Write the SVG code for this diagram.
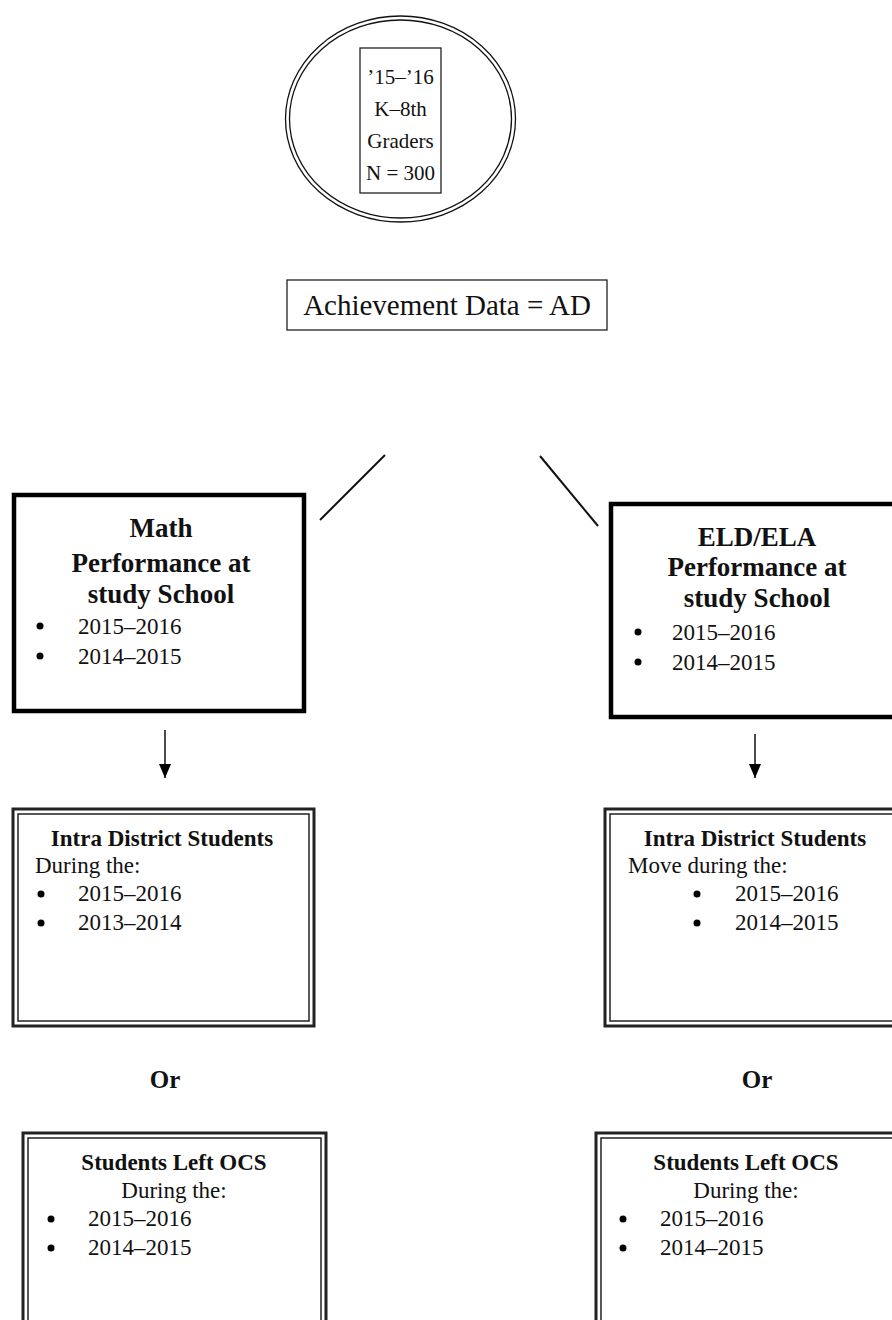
<svg xmlns="http://www.w3.org/2000/svg" width="892" height="1320" viewBox="0 0 892 1320">
<defs>
<style>
text{font-family:"Liberation Serif","Times New Roman",serif;fill:#111}
.b{font-weight:bold}
.c{text-anchor:middle}
.thin{fill:none;stroke:#111;stroke-width:1.3}
.thick{fill:#fff;stroke:#000;stroke-width:4.5}
.dbo{fill:#fff;stroke:#222;stroke-width:3}
.dbi{fill:none;stroke:#222;stroke-width:1.5}
.conn{stroke:#111;stroke-width:2;fill:none}
.h{font-size:27px;font-weight:bold}
.t{font-size:23px}
.hb{font-size:23px;font-weight:bold}
</style>
<marker id="ah" markerWidth="14" markerHeight="12" refX="14" refY="6" orient="auto" markerUnits="userSpaceOnUse" viewBox="0 0 14 12">
<path d="M0,0 L14,6 L0,12 Z" fill="#000"/>
</marker>
</defs>
<rect width="892" height="1320" fill="#fff"/>

<g id="connectors">
<line class="conn" x1="385" y1="455" x2="320" y2="520"/>
<line class="conn" x1="540" y1="456" x2="598" y2="526"/>
<line x1="165" y1="730" x2="165" y2="778" stroke="#111" stroke-width="1.5" marker-end="url(#ah)"/>
<line x1="755" y1="734" x2="755" y2="778" stroke="#111" stroke-width="1.5" marker-end="url(#ah)"/>
</g>

<g id="node-population">
<ellipse cx="400.5" cy="119" rx="115" ry="103" class="thin"/>
<ellipse cx="400.5" cy="119" rx="111" ry="99" class="thin"/>
<rect x="360" y="48" width="81" height="145" fill="#fff" stroke="#222" stroke-width="1.3"/>
<text class="c" x="400.5" y="84" font-size="21">’15–’16</text>
<text class="c" x="400.5" y="116" font-size="21">K–8th</text>
<text class="c" x="400.5" y="148" font-size="21">Graders</text>
<text class="c" x="400.5" y="180" font-size="21">N = 300</text>
</g>

<g id="node-ad">
<rect x="287" y="280" width="320" height="50" fill="#fff" stroke="#222" stroke-width="1.3"/>
<text class="c" x="447" y="315" font-size="29">Achievement Data = AD</text>
</g>

<g id="node-math">
<rect x="14" y="495" width="290" height="216" class="thick"/>
<text class="c h" x="161" y="537">Math</text>
<text class="c h" x="161" y="572">Performance at</text>
<text class="c h" x="161" y="603">study School</text>
<circle cx="40" cy="626" r="3.5"/>
<text class="t" x="78" y="634">2015–2016</text>
<circle cx="40" cy="656" r="3.5"/>
<text class="t" x="78" y="664">2014–2015</text>
</g>

<g id="node-ela">
<rect x="611" y="504" width="290" height="213" class="thick"/>
<text class="c h" x="757" y="546">ELD/ELA</text>
<text class="c h" x="757" y="576">Performance at</text>
<text class="c h" x="757" y="607">study School</text>
<circle cx="638" cy="632" r="3.5"/>
<text class="t" x="672" y="640">2015–2016</text>
<circle cx="638" cy="662" r="3.5"/>
<text class="t" x="672" y="670">2014–2015</text>
</g>

<g id="node-intra-left">
<rect x="13" y="809" width="301" height="217" class="dbo"/>
<rect x="18" y="814" width="291" height="207" class="dbi"/>
<text class="c hb" x="162" y="846">Intra District Students</text>
<text class="t" x="35" y="873">During the:</text>
<circle cx="41" cy="894" r="3.5"/>
<text class="t" x="78" y="901">2015–2016</text>
<circle cx="41" cy="923" r="3.5"/>
<text class="t" x="78" y="930">2013–2014</text>
</g>

<g id="node-intra-right">
<rect x="605" y="809" width="295" height="217" class="dbo"/>
<rect x="610" y="814" width="285" height="207" class="dbi"/>
<text class="c hb" x="755" y="846">Intra District Students</text>
<text class="t" x="628" y="873">Move during the:</text>
<circle cx="697" cy="894" r="3.5"/>
<text class="t" x="735" y="901">2015–2016</text>
<circle cx="697" cy="923" r="3.5"/>
<text class="t" x="735" y="930">2014–2015</text>
</g>

<g id="node-or-left">
<text class="c b" x="165" y="1088" font-size="25">Or</text>
</g>
<g id="node-or-right">
<text class="c b" x="757" y="1088" font-size="25">Or</text>
</g>

<g id="node-left-ocs-left">
<rect x="23" y="1133" width="303" height="200" class="dbo"/>
<rect x="28" y="1138" width="293" height="190" class="dbi"/>
<text class="c hb" x="174" y="1170">Students Left OCS</text>
<text class="c t" x="174" y="1198">During the:</text>
<circle cx="51" cy="1219" r="3.5"/>
<text class="t" x="88" y="1226">2015–2016</text>
<circle cx="51" cy="1248" r="3.5"/>
<text class="t" x="88" y="1255">2014–2015</text>
</g>

<g id="node-left-ocs-right">
<rect x="596" y="1133" width="305" height="200" class="dbo"/>
<rect x="601" y="1138" width="295" height="190" class="dbi"/>
<text class="c hb" x="746" y="1170">Students Left OCS</text>
<text class="c t" x="746" y="1198">During the:</text>
<circle cx="623" cy="1219" r="3.5"/>
<text class="t" x="660" y="1226">2015–2016</text>
<circle cx="623" cy="1248" r="3.5"/>
<text class="t" x="660" y="1255">2014–2015</text>
</g>
</svg>
